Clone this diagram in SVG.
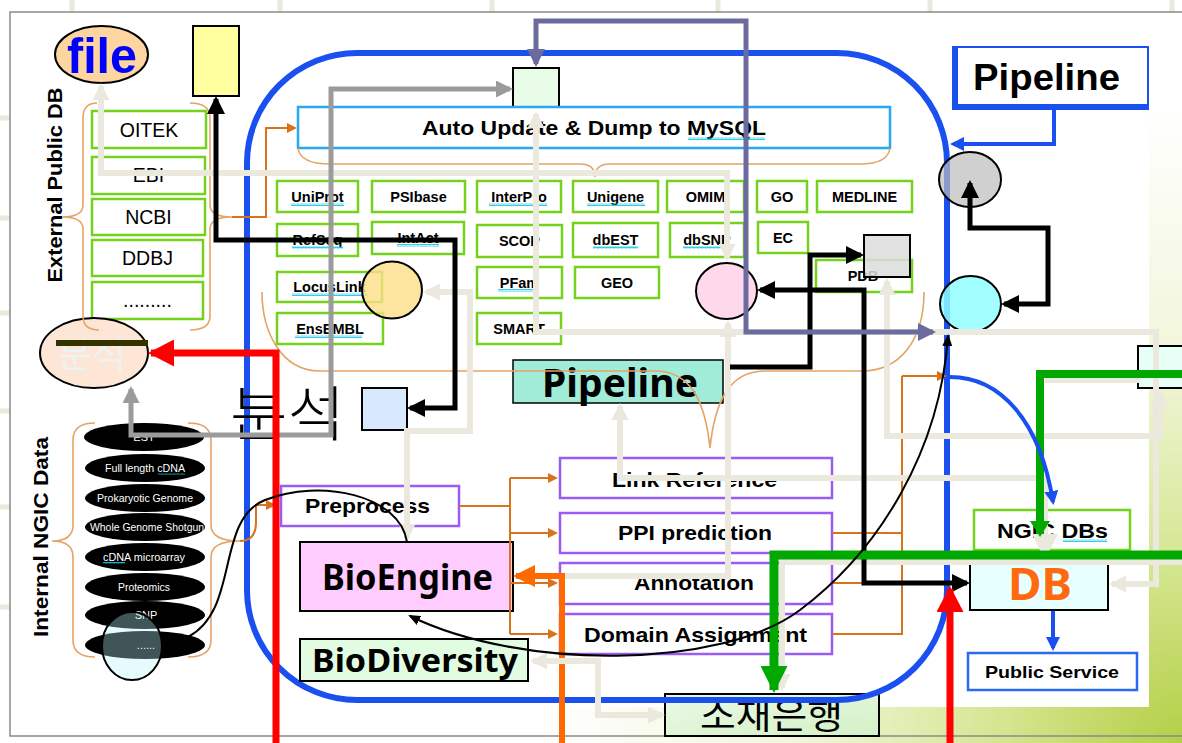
<svg xmlns="http://www.w3.org/2000/svg" width="1182" height="743" viewBox="0 0 1182 743">
<defs>
<radialGradient id="bgGrad" gradientUnits="userSpaceOnUse" cx="1182" cy="743" r="640">
<stop offset="0" stop-color="#b3cf45"/><stop offset="0.3" stop-color="#d6e795"/><stop offset="0.6" stop-color="#f1f6da"/><stop offset="1" stop-color="#ffffff"/>
</radialGradient>
<linearGradient id="sojaeGrad" x1="0" y1="0" x2="1" y2="1"><stop offset="0" stop-color="#eafbe6"/><stop offset="1" stop-color="#d4f0c6"/></linearGradient>
<pattern id="wavy" patternUnits="userSpaceOnUse" width="4" height="3"><path d="M0,2.5 L1,0.5 L2,2.5 L3,0.5 L4,2.5" fill="none" stroke="#18c8e8" stroke-width="0.9"/></pattern>
<marker id="mK" markerUnits="userSpaceOnUse" markerWidth="18" markerHeight="18" viewBox="0 0 18 18" refX="15" refY="9" orient="auto-start-reverse"><path d="M0,0 L18,9 L0,18 z" fill="#000"/></marker>
<marker id="mKt" markerUnits="userSpaceOnUse" markerWidth="12" markerHeight="10" viewBox="0 0 12 10" refX="10" refY="5" orient="auto-start-reverse"><path d="M0,0 L12,5 L0,10 z" fill="#000"/></marker>
<marker id="mG" markerUnits="userSpaceOnUse" markerWidth="17" markerHeight="17" viewBox="0 0 17 17" refX="14" refY="8.5" orient="auto-start-reverse"><path d="M0,0 L17,8.5 L0,17 z" fill="#9b9b9b"/></marker>
<marker id="mB" markerUnits="userSpaceOnUse" markerWidth="17" markerHeight="17" viewBox="0 0 17 17" refX="14" refY="8.5" orient="auto-start-reverse"><path d="M0,0 L17,8.5 L0,17 z" fill="#ebe8de"/></marker>
<marker id="mBb" markerUnits="userSpaceOnUse" markerWidth="26" markerHeight="26" viewBox="0 0 26 26" refX="23" refY="13" orient="auto-start-reverse"><path d="M0,0 L26,13 L0,26 z" fill="#ebe8de"/></marker>
<marker id="mP" markerUnits="userSpaceOnUse" markerWidth="18" markerHeight="18" viewBox="0 0 18 18" refX="15" refY="9" orient="auto-start-reverse"><path d="M0,0 L18,9 L0,18 z" fill="#6b6ba0"/></marker>
<marker id="mR" markerUnits="userSpaceOnUse" markerWidth="26" markerHeight="27" viewBox="0 0 26 27" refX="23" refY="13.5" orient="auto-start-reverse"><path d="M0,0 L26,13.5 L0,27 z" fill="#ff0000"/></marker>
<marker id="mO" markerUnits="userSpaceOnUse" markerWidth="22" markerHeight="22" viewBox="0 0 22 22" refX="19" refY="11" orient="auto-start-reverse"><path d="M0,0 L22,11 L0,22 z" fill="#ff6a00"/></marker>
<marker id="mOt" markerUnits="userSpaceOnUse" markerWidth="10" markerHeight="10" viewBox="0 0 10 10" refX="8" refY="5" orient="auto-start-reverse"><path d="M0,0 L10,5 L0,10 z" fill="#d8731c"/></marker>
<marker id="mL" markerUnits="userSpaceOnUse" markerWidth="14" markerHeight="14" viewBox="0 0 14 14" refX="11" refY="7" orient="auto-start-reverse"><path d="M0,0 L14,7 L0,14 z" fill="#1a50f0"/></marker>
<marker id="mN" markerUnits="userSpaceOnUse" markerWidth="27" markerHeight="27" viewBox="0 0 27 27" refX="24" refY="13.5" orient="auto-start-reverse"><path d="M0,0 L27,13.5 L0,27 z" fill="#00a800"/></marker>
<marker id="mNs" markerUnits="userSpaceOnUse" markerWidth="16" markerHeight="20" viewBox="0 0 16 20" refX="13" refY="10" orient="auto-start-reverse"><path d="M0,0 L16,10 L0,20 z" fill="#00a800"/></marker>
<style>
.t{font-family:"Liberation Sans",Arial,sans-serif;font-weight:bold;text-anchor:middle;fill:#000}
.n{font-family:"Noto Sans","Open Sans",sans-serif;font-weight:bold;text-anchor:middle;fill:#000}
.k{font-family:"Noto Sans CJK KR",sans-serif;text-anchor:middle}
.s14{font-size:14.5px}
.s19{font-size:19.5px;font-weight:normal}
.s21{font-size:21px}
.gb{fill:#fff;stroke:#74d21c;stroke-width:2.5}
.pb{fill:#fff;stroke:#9a5cf5;stroke-width:2.5}
.de{fill:#000}
.dt{font-family:"Liberation Sans",Arial,sans-serif;font-size:11px;fill:#fff;text-anchor:middle}
.br{fill:none;stroke:#e4a466;stroke-width:1.6}
.oc{fill:none;stroke:#d8731c;stroke-width:2}
.c{fill:none;stroke-linejoin:miter}
.cK{stroke:#000;stroke-width:5}
.cG{stroke:#9b9b9b;stroke-width:5}
.cB{stroke:#ebe8de;stroke-width:6}
.cP{stroke:#6b6ba0;stroke-width:5}
.cR{stroke:#ff0000;stroke-width:7}
.cO{stroke:#ff6a00;stroke-width:6}
.cL{stroke:#1a50f0;stroke-width:4}
.cN{stroke:#00a800;stroke-width:9}
.cNs{stroke:#00a800;stroke-width:8}
.cKt{stroke:#000;stroke-width:2}
.wv{fill:url(#wavy)}
</style>
</defs>

<!-- background -->
<rect x="0" y="0" width="1182" height="743" fill="url(#bgGrad)"/>
<rect x="10" y="12" width="1139" height="695" fill="#ffffff"/>
<g stroke="#ebe8dc" stroke-width="5">
<path d="M72,0 V12 M280,0 V12 M492,0 V12 M718,0 V12 M930,0 V12 M1172,0 V12"/>
<path d="M0,118 H10 M0,218 H10 M0,313 H10 M0,411 H10 M0,507 H10 M0,607 H10"/>
</g>
<path d="M1182,12 H10 V736 H1182" fill="none" stroke="#8a8a8a" stroke-width="1.5"/>

<!-- 소재은행 (under the blue frame line) -->
<g id="n-sojae">
<rect x="665" y="694" width="214" height="42" fill="url(#sojaeGrad)" stroke="#000" stroke-width="2"/>
<text class="k" x="771.5" y="729" font-size="36" textLength="143" lengthAdjust="spacingAndGlyphs">소재은행</text>
</g>

<!-- big blue frame -->
<g id="n-frame">
<rect x="247" y="53" width="700" height="647" rx="110" ry="110" fill="none" stroke="#1a50f0" stroke-width="6"/>
</g>

<!-- top-left nodes -->
<g id="n-file">
<ellipse cx="101.5" cy="54.5" rx="46.5" ry="28.5" fill="#fdd5a0" stroke="#000" stroke-width="2"/>
<text class="t" x="102" y="73" font-size="50" style="fill:#0000ff" textLength="70" lengthAdjust="spacingAndGlyphs">file</text>
</g>
<g id="n-yellow-rect"><rect x="193" y="26" width="46" height="70" fill="#ffffa0" stroke="#000" stroke-width="2"/></g>
<g id="n-sync-square"><rect x="513" y="68" width="46" height="42" fill="#e8fce8" stroke="#000" stroke-width="2"/></g>

<g id="n-pipeline-top">
<rect x="952" y="46" width="197" height="64" fill="#1a50f0"/>
<rect x="958" y="48" width="189" height="56" fill="#ffffff"/>
<text class="t" x="1046.5" y="90" font-size="36" textLength="147" lengthAdjust="spacingAndGlyphs">Pipeline</text>
</g>

<g id="lbl-external">
<text class="t" transform="translate(62,185) rotate(-90)" font-size="20" textLength="195" lengthAdjust="spacingAndGlyphs">External Public DB</text>
</g>
<g id="lbl-internal">
<text class="t" transform="translate(48,537) rotate(-90)" font-size="20" textLength="200" lengthAdjust="spacingAndGlyphs">Internal NGIC  Data</text>
</g>

<!-- external DB list -->
<g id="n-oitek"><rect class="gb" x="92" y="111" width="114" height="37"/><text class="t s19" x="149" y="137">OITEK</text></g>
<g id="n-ebi"><rect class="gb" x="92" y="157" width="113" height="37"/><text class="t s19" x="148.5" y="182">EBI</text></g>
<g id="n-ncbi"><rect class="gb" x="92" y="199" width="113" height="36"/><text class="t s19" x="148.5" y="224">NCBI</text></g>
<g id="n-ddbj"><rect class="gb" x="92" y="240" width="111" height="36"/><text class="t s19" x="147.5" y="265">DDBJ</text></g>
<g id="n-more"><rect class="gb" x="92" y="282" width="111" height="37"/><text class="t s19" x="147.5" y="307">.........</text></g>

<!-- auto update -->
<g id="n-auto-update">
<rect x="298" y="107" width="592" height="41" fill="#fff" stroke="#28a8f0" stroke-width="2.5"/>
<text class="t s21" x="594" y="135" textLength="344" lengthAdjust="spacingAndGlyphs">Auto Update &amp; Dump to MySQL</text>
<rect class="wv" x="688" y="137" width="77" height="3"/>
</g>

<!-- DB grid -->
<g id="n-uniprot"><rect class="gb" x="277" y="181" width="81" height="31"/><text class="t s14" x="317.5" y="202">UniProt</text><rect class="wv" x="291" y="203" width="53" height="3"/></g>
<g id="n-psibase"><rect class="gb" x="372" y="181" width="93" height="31"/><text class="t s14" x="418.5" y="202">PSIbase</text></g>
<g id="n-interpro"><rect class="gb" x="477" y="181" width="84" height="31"/><text class="t s14" x="519" y="202">InterPro</text><rect class="wv" x="489" y="203" width="58" height="3"/></g>
<g id="n-unigene"><rect class="gb" x="573" y="181" width="85" height="31"/><text class="t s14" x="615.5" y="202">Unigene</text><rect class="wv" x="587" y="203" width="58" height="3"/></g>
<g id="n-omim"><rect class="gb" x="667" y="181" width="77" height="31"/><text class="t s14" x="705.5" y="202">OMIM</text></g>
<g id="n-go"><rect class="gb" x="757" y="181" width="50" height="31"/><text class="t s14" x="782" y="202">GO</text></g>
<g id="n-medline"><rect class="gb" x="817" y="181" width="95" height="31"/><text class="t s14" x="864.5" y="202">MEDLINE</text></g>

<g id="n-refseq"><rect class="gb" x="277" y="224" width="81" height="32"/><text class="t s14" x="317.5" y="245">RefSeq</text><rect class="wv" x="292" y="246" width="51" height="3"/></g>
<g id="n-intact"><rect class="gb" x="372" y="222" width="92" height="32"/><text class="t s14" x="418" y="243">IntAct</text><rect class="wv" x="397" y="244" width="42" height="3"/></g>
<g id="n-scop"><rect class="gb" x="477" y="225" width="85" height="32"/><text class="t s14" x="519.5" y="246">SCOP</text></g>
<g id="n-dbest"><rect class="gb" x="573" y="223" width="85" height="34"/><text class="t s14" x="615.5" y="245">dbEST</text><rect class="wv" x="593" y="246" width="45" height="3"/></g>
<g id="n-dbsnp"><rect class="gb" x="670" y="223" width="74" height="34"/><text class="t s14" x="707" y="245">dbSNP</text><rect class="wv" x="683" y="246" width="47" height="3"/></g>
<g id="n-ec"><rect class="gb" x="758" y="222" width="50" height="31"/><text class="t s14" x="783" y="243">EC</text></g>
<g id="n-pdb"><rect class="gb" x="816" y="260" width="96" height="32"/><text class="t s14" x="863" y="281">PDB</text></g>

<g id="n-locuslink"><rect class="gb" x="277" y="272" width="105" height="30"/><text class="t s14" x="329.5" y="292">LocusLink</text><rect class="wv" x="292" y="293" width="75" height="3"/></g>
<g id="n-pfam"><rect class="gb" x="477" y="267" width="85" height="31"/><text class="t s14" x="519.5" y="288">PFam</text><rect class="wv" x="498" y="289" width="35" height="3"/></g>
<g id="n-geo"><rect class="gb" x="575" y="267" width="84" height="31"/><text class="t s14" x="617" y="288">GEO</text></g>
<g id="n-ensembl"><rect class="gb" x="277" y="313" width="106" height="31"/><text class="t s14" x="330" y="334">EnsEMBL</text><rect class="wv" x="295" y="335" width="67" height="3"/></g>
<g id="n-smart"><rect class="gb" x="477" y="313" width="84" height="31"/><text class="t s14" x="519" y="334">SMART</text></g>

<!-- overlay circles / squares -->
<g id="n-locus-circle"><ellipse cx="392" cy="290" rx="30" ry="28.5" fill="#fcdf88" fill-opacity="0.8" stroke="#000" stroke-width="2"/></g>
<g id="n-pink-circle"><ellipse cx="726.5" cy="291" rx="30.5" ry="28" fill="#ffd8ec" stroke="#000" stroke-width="2"/></g>
<g id="n-pdb-square"><rect x="864" y="235" width="46" height="42" fill="#dcdcdc" fill-opacity="0.85" stroke="#000" stroke-width="2"/></g>
<g id="n-gray-circle"><ellipse cx="970" cy="179.5" rx="31" ry="27.5" fill="#bcbcbc" fill-opacity="0.7" stroke="#000" stroke-width="2"/></g>
<g id="n-cyan-circle"><ellipse cx="970.5" cy="304" rx="30.5" ry="28" fill="#90ffff" fill-opacity="0.85" stroke="#000" stroke-width="2"/></g>
<g id="n-right-box"><rect x="1138" y="346" width="60" height="42" fill="#e8fff8" stroke="#000" stroke-width="2"/></g>

<!-- 분석 ellipse -->
<g id="n-analysis">
<ellipse cx="94" cy="353" rx="54" ry="35" fill="#fde6d6" stroke="#000" stroke-width="2"/>
<text class="k" x="92" y="368" font-size="36" fill="#eef2f2" textLength="69" lengthAdjust="spacingAndGlyphs">분석</text>
<rect x="56" y="340" width="92" height="6" fill="#333300"/>
</g>
<g id="n-blue-square"><rect x="362" y="388" width="45" height="42" fill="#d8e8ff" stroke="#000" stroke-width="2"/></g>
<g id="lbl-bunseok"><text class="k" x="287.5" y="436" font-size="60" font-weight="200" fill="#000" textLength="115" lengthAdjust="spacingAndGlyphs">분석</text></g>

<!-- pipeline middle -->
<g id="n-pipeline-mid">
<rect x="513" y="360" width="210" height="43" fill="#a0ecd8" stroke="#000" stroke-width="1.5"/>
<text class="n" x="620" y="397" font-size="40" textLength="156" lengthAdjust="spacingAndGlyphs">Pipeline</text>
</g>

<!-- process boxes -->
<g id="n-preprocess"><rect class="pb" x="281" y="486" width="178" height="40"/><text class="t s21" x="367.5" y="513" textLength="125" lengthAdjust="spacingAndGlyphs">Preprocess</text></g>
<g id="n-linkref"><rect class="pb" x="560" y="458" width="272" height="40"/><text class="t s21" x="694.5" y="487" textLength="165" lengthAdjust="spacingAndGlyphs">Link Reference</text></g>
<g id="n-ppi"><rect class="pb" x="560" y="513" width="272" height="40"/><text class="t s21" x="695" y="540" textLength="154" lengthAdjust="spacingAndGlyphs">PPI prediction</text></g>
<g id="n-annotation"><rect class="pb" x="560" y="563" width="272" height="41"/><text class="t s21" x="694" y="590" textLength="120" lengthAdjust="spacingAndGlyphs">Annotation</text></g>
<g id="n-domain"><rect class="pb" x="560" y="614" width="272" height="40"/><text class="t s21" x="695.5" y="642" textLength="223" lengthAdjust="spacingAndGlyphs">Domain Assignment</text></g>

<g id="n-bioengine">
<rect x="300" y="542" width="213" height="69" fill="#ffccff" stroke="#000" stroke-width="2"/>
<text class="n" x="407.5" y="590" font-size="35" textLength="171" lengthAdjust="spacingAndGlyphs">BioEngine</text>
</g>
<g id="n-biodiversity">
<rect x="300" y="639" width="228" height="42" fill="#e2fce2" stroke="#000" stroke-width="2"/>
<text class="n" x="415" y="672" font-size="33" textLength="206" lengthAdjust="spacingAndGlyphs">BioDiversity</text>
</g>

<!-- right side -->
<g id="n-ngic-dbs"><rect x="974" y="510" width="156" height="40" fill="#fff" stroke="#74d21c" stroke-width="2.5"/><text class="t s21" x="1052.5" y="538" textLength="111" lengthAdjust="spacingAndGlyphs">NGIC DBs</text><rect class="wv" x="1063" y="539" width="44" height="3"/></g>
<g id="n-db"><rect x="970" y="563" width="138" height="47" fill="#e8ffff" stroke="#000" stroke-width="2"/><text class="n" x="1040" y="600" font-size="44" style="fill:#ff6a10" textLength="64" lengthAdjust="spacingAndGlyphs">DB</text></g>
<g id="n-public"><rect x="968" y="653" width="169" height="37" fill="#fff" stroke="#2a6af0" stroke-width="2.5"/><text class="t" x="1052" y="678" font-size="17" textLength="134" lengthAdjust="spacingAndGlyphs">Public Service</text></g>

<!-- internal data -->
<g id="n-internal-data">
<ellipse class="de" cx="144" cy="437" rx="60" ry="14"/><text class="dt" x="144" y="441">EST</text>
<ellipse class="de" cx="145" cy="468" rx="60" ry="14"/><text class="dt" x="145" y="472" textLength="80" lengthAdjust="spacingAndGlyphs">Full length cDNA</text>
<ellipse class="de" cx="145" cy="498" rx="60" ry="14"/><text class="dt" x="145" y="502" textLength="96" lengthAdjust="spacingAndGlyphs">Prokaryotic Genome</text>
<ellipse class="de" cx="145" cy="527" rx="60" ry="14"/><text class="dt" x="147" y="531" textLength="114" lengthAdjust="spacingAndGlyphs">Whole Genome Shotgun</text>
<ellipse class="de" cx="145" cy="557" rx="60" ry="14"/><text class="dt" x="144" y="561" textLength="82" lengthAdjust="spacingAndGlyphs">cDNA microarray</text>
<ellipse class="de" cx="145" cy="587" rx="60" ry="14"/><text class="dt" x="144" y="591" textLength="52" lengthAdjust="spacingAndGlyphs">Proteomics</text>
<ellipse class="de" cx="145" cy="615" rx="60" ry="14"/><text class="dt" x="146" y="619">SNP</text>
<ellipse class="de" cx="145" cy="645" rx="60" ry="14"/><text class="dt" x="146" y="649">......</text>
<rect class="wv" x="158" y="473" width="27" height="2"/>
<rect class="wv" x="103" y="562" width="22" height="2"/>
</g>
<g id="n-cyan-ellipse"><ellipse cx="132" cy="646" rx="30" ry="34" fill="#b8f4f8" fill-opacity="0.35" stroke="#000" stroke-width="2"/></g>

<!-- braces -->
<g id="braces">
<path class="br" d="M97,103 Q83,103 83,118 V205 Q83,217 62,217 Q83,217 83,229 V316 Q83,330 99,330"/>
<path class="br" d="M190,103 Q210,103 210,118 V205 Q210,217 232,217 Q210,217 210,229 V316 Q210,330 190,330"/>
<path class="br" d="M95,423 Q73,423 73,440 V525 Q73,541 52,541 Q73,541 73,557 V640 Q73,657 95,657"/>
<path class="br" d="M188,423 Q211,423 211,440 V525 Q211,541 240,541 Q211,541 211,557 V640 Q211,657 188,657"/>
<path class="br" d="M298,148 Q300,164 330,164 H580 Q595,164 595,177 Q595,164 610,164 H860 Q888,164 890,148"/>
<path class="br" d="M262,292 C262,330 280,371 320,371 H655 C690,371 705,400 710,448 C715,400 730,371 765,371 H862 C900,371 924,340 924,292"/>
</g>

<!-- connectors -->
<g id="connectors">
<path class="oc" d="M232,217 H266 V128 H295" marker-end="url(#mOt)"/>
<path class="oc" d="M240,541 Q256,541 256,522 V505 H274" marker-end="url(#mOt)"/>
<path class="oc" d="M459,506 H510 M510,478 V634"/>
<path class="oc" d="M510,478 H556" marker-end="url(#mOt)"/>
<path class="oc" d="M510,533 H556" marker-end="url(#mOt)"/>
<path class="oc" d="M510,583 H556" marker-end="url(#mOt)"/>
<path class="oc" d="M510,634 H556" marker-end="url(#mOt)"/>
<path class="oc" d="M832,478 H902 M832,533 H902 M832,583 H902 M832,634 H902 V376"/>
<path class="oc" d="M902,376 H945" marker-end="url(#mOt)"/>

<path class="c cB" d="M101,86 V173 H727 V258" marker-start="url(#mB)" marker-end="url(#mB)"/>
<path class="c cB" d="M536,114 V332 H1156 V584 H1112" marker-start="url(#mB)" marker-end="url(#mB)"/>
<path class="c cB" d="M887,281 V436 H1160 V393" marker-start="url(#mB)" marker-end="url(#mB)"/>
<path class="c cB" d="M426,292 H470 V431 H407 V538" marker-start="url(#mB)" marker-end="url(#mB)"/>
<path class="c cB" d="M620,406 V478 H1045 V557" marker-start="url(#mB)" marker-end="url(#mBb)"/>
<path class="c cB" d="M1140,380 H1045"/>
<path class="c cB" d="M1182,562 H782 V688" marker-end="url(#mB)"/>
<path class="c cB" d="M552,576 H728 V323" marker-end="url(#mB)"/>

<path class="c cK" d="M216,99 V240 H455 V408 H410" marker-start="url(#mK)" marker-end="url(#mK)"/>
<path class="c cK" d="M760,290 H864 V583 H967" marker-start="url(#mK)" marker-end="url(#mK)"/>
<path class="c cK" d="M730,367 H810 V255 H861" marker-end="url(#mK)"/>
<path class="c cK" d="M970,183 V228 H1048 V304 H1004" marker-start="url(#mK)" marker-end="url(#mK)"/>

<path class="c cG" d="M510,89 H331 V435 H131 V389" marker-start="url(#mG)" marker-end="url(#mG)"/>

<path class="c cP" d="M536,64 V21 H746 V332 H933" marker-start="url(#mP)" marker-end="url(#mP)"/>

<path class="c cNs" d="M1182,374 H1040 V534" marker-end="url(#mNs)"/>
<path class="c cN" d="M1182,555 H774 V690" marker-end="url(#mN)"/>

<path class="c cL" d="M1054,110 V144 H953" marker-end="url(#mL)"/>
<path class="c cL" d="M950,377 C1000,377 1040,420 1053,502" marker-end="url(#mL)"/>
<path class="c cL" d="M1053,611 V648" marker-end="url(#mL)"/>

<path class="c cR" d="M276,743 V353 H151" marker-end="url(#mR)"/>
<path class="c cR" d="M950,743 V589" marker-end="url(#mR)"/>

<path class="c cO" d="M562,743 V576 H516" marker-end="url(#mO)"/>

<path class="c cB" d="M533,661 H598 V715 H662" marker-start="url(#mB)" marker-end="url(#mB)"/>

<path class="c cKt" d="M188,637 C240,610 215,520 265,500 C320,478 400,495 407,542"/>
<path class="c cKt" d="M410,616 C520,670 720,670 800,610 C880,550 940,450 948,336" marker-start="url(#mKt)" marker-end="url(#mKt)"/>
</g>
</svg>
